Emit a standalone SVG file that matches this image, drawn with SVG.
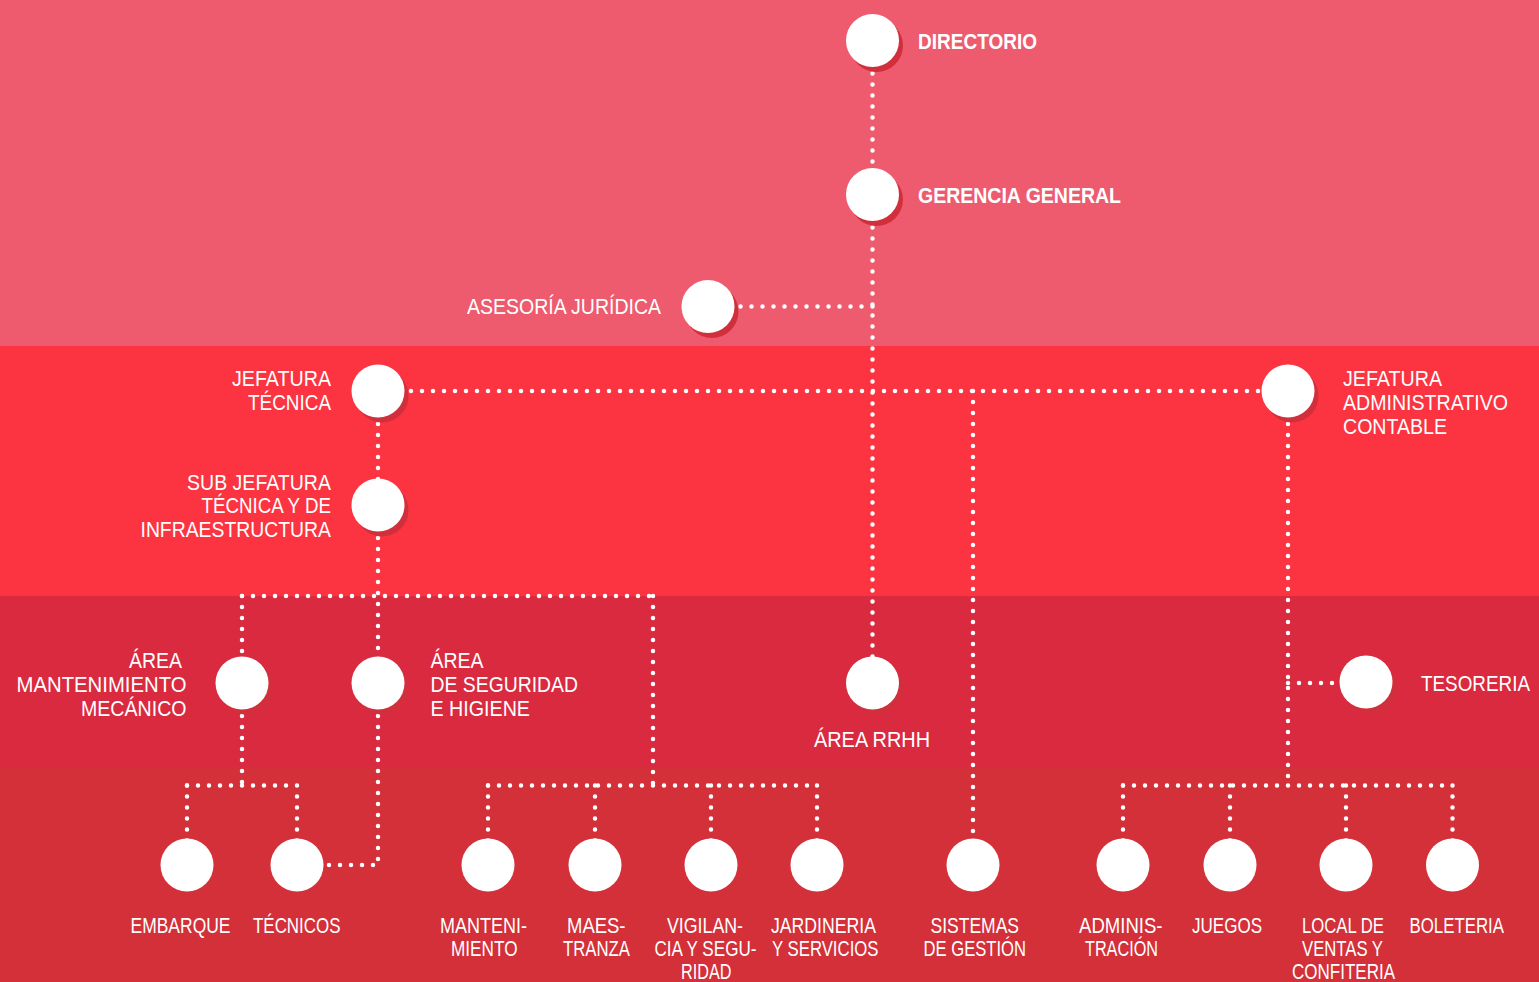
<svg xmlns="http://www.w3.org/2000/svg" width="1539" height="982" viewBox="0 0 1539 982">
<style>
.dot{fill:none;stroke:#fff;stroke-width:4.5;stroke-linecap:round;stroke-dasharray:0 11}
.sh{fill:#D22F3D}
.c{fill:#fff}
text{font-family:"Liberation Sans",Arial,sans-serif;font-size:21.5px;fill:#fff}
.b{font-weight:bold;font-size:22.5px}
</style>
<g id="bands">
<rect x="0" y="0" width="1539" height="346" fill="#EE5B6F"/>
<rect x="0" y="346" width="1539" height="250" fill="#FC3441"/>
<rect x="0" y="596" width="1539" height="171" fill="#DA2A40"/>
<rect x="0" y="767" width="1539" height="215" fill="#D33039"/>
</g>
<g id="connectors">
<path class="dot" d="M872.5 40.5V194.5"/>
<path class="dot" d="M872.5 194.5V683"/>
<path class="dot" d="M872.5 306.5H708"/>
<path class="dot" d="M378 391H1288"/>
<path class="dot" d="M973 391V865"/>
<path class="dot" d="M378 391V505"/>
<path class="dot" d="M378 505V683"/>
<path class="dot" d="M242 596H653"/>
<path class="dot" d="M242 596V683"/>
<path class="dot" d="M653 596V785.5"/>
<path class="dot" d="M242 683V785.5"/>
<path class="dot" d="M187 785.5H297"/>
<path class="dot" d="M187 785.5V865"/>
<path class="dot" d="M297 785.5V865"/>
<path class="dot" d="M378 683V865H297"/>
<path class="dot" d="M488 785.5H817"/>
<path class="dot" d="M488 785.5V865"/>
<path class="dot" d="M595 785.5V865"/>
<path class="dot" d="M711 785.5V865"/>
<path class="dot" d="M817 785.5V865"/>
<path class="dot" d="M1288 391V785.5"/>
<path class="dot" d="M1288 683H1366"/>
<path class="dot" d="M1123 785.5H1452.5"/>
<path class="dot" d="M1123 785.5V865"/>
<path class="dot" d="M1230 785.5V865"/>
<path class="dot" d="M1346 785.5V865"/>
<path class="dot" d="M1452.5 785.5V865"/>
</g>
<g id="directorio"><circle class="sh" cx="876.5" cy="45.5" r="26.5"/><circle class="c" cx="872.5" cy="40.5" r="26.5"/><text class="b" x="918" y="49" textLength="119" lengthAdjust="spacingAndGlyphs">DIRECTORIO</text></g>
<g id="gerencia"><circle class="sh" cx="876.5" cy="199.5" r="26.5"/><circle class="c" cx="872.5" cy="194.5" r="26.5"/><text class="b" x="918" y="203" textLength="203" lengthAdjust="spacingAndGlyphs">GERENCIA GENERAL</text></g>
<g id="asesoria"><circle class="sh" cx="712" cy="311.5" r="26.5"/><circle class="c" cx="708" cy="306.5" r="26.5"/><text x="467" y="313.5" textLength="194" lengthAdjust="spacingAndGlyphs">ASESORÍA JURÍDICA</text></g>
<g id="jefatura-tecnica"><circle class="sh" cx="382" cy="396" r="26.5"/><circle class="c" cx="378" cy="391" r="26.5"/><text x="232" y="386" textLength="99" lengthAdjust="spacingAndGlyphs">JEFATURA</text><text x="248" y="409.5" textLength="83" lengthAdjust="spacingAndGlyphs">TÉCNICA</text></g>
<g id="sub-jefatura"><circle class="sh" cx="382" cy="510" r="26.5"/><circle class="c" cx="378" cy="505" r="26.5"/><text x="187" y="489.5" textLength="144" lengthAdjust="spacingAndGlyphs">SUB JEFATURA</text><text x="201.5" y="513" textLength="129.5" lengthAdjust="spacingAndGlyphs">TÉCNICA Y DE</text><text x="140.5" y="537" textLength="190.5" lengthAdjust="spacingAndGlyphs">INFRAESTRUCTURA</text></g>
<g id="jefatura-adm"><circle class="sh" cx="1292" cy="396" r="26.5"/><circle class="c" cx="1288" cy="391" r="26.5"/><text x="1343" y="386" textLength="99" lengthAdjust="spacingAndGlyphs">JEFATURA</text><text x="1343" y="410" textLength="165" lengthAdjust="spacingAndGlyphs">ADMINISTRATIVO</text><text x="1343" y="433.5" textLength="104" lengthAdjust="spacingAndGlyphs">CONTABLE</text></g>
<g id="area-mant"><circle class="sh" cx="246" cy="688" r="26.5"/><circle class="c" cx="242" cy="683" r="26.5"/><text x="129" y="667.5" textLength="53" lengthAdjust="spacingAndGlyphs">ÁREA</text><text x="16.5" y="691.5" textLength="170" lengthAdjust="spacingAndGlyphs">MANTENIMIENTO</text><text x="81" y="716" textLength="105.5" lengthAdjust="spacingAndGlyphs">MECÁNICO</text></g>
<g id="area-seg"><circle class="sh" cx="382" cy="688" r="26.5"/><circle class="c" cx="378" cy="683" r="26.5"/><text x="430.5" y="667.5" textLength="53" lengthAdjust="spacingAndGlyphs">ÁREA</text><text x="430.5" y="691.5" textLength="147.5" lengthAdjust="spacingAndGlyphs">DE SEGURIDAD</text><text x="430.5" y="716" textLength="99.5" lengthAdjust="spacingAndGlyphs">E HIGIENE</text></g>
<g id="area-rrhh"><circle class="sh" cx="876.5" cy="688" r="26.5"/><circle class="c" cx="872.5" cy="683" r="26.5"/><text x="814" y="747" textLength="116" lengthAdjust="spacingAndGlyphs">ÁREA RRHH</text></g>
<g id="tesoreria"><circle class="sh" cx="1370" cy="687" r="26.5"/><circle class="c" cx="1366" cy="682" r="26.5"/><text x="1421" y="691" textLength="109" lengthAdjust="spacingAndGlyphs">TESORERIA</text></g>
<g id="embarque"><circle class="c" cx="187" cy="865" r="26.5"/><text x="130.5" y="933" textLength="100" lengthAdjust="spacingAndGlyphs">EMBARQUE</text></g>
<g id="tecnicos"><circle class="c" cx="297" cy="865" r="26.5"/><text x="253" y="933" textLength="87.5" lengthAdjust="spacingAndGlyphs">TÉCNICOS</text></g>
<g id="mantenimiento"><circle class="c" cx="488" cy="865" r="26.5"/><text x="440" y="933" textLength="87" lengthAdjust="spacingAndGlyphs">MANTENI-</text><text x="451" y="956" textLength="66.5" lengthAdjust="spacingAndGlyphs">MIENTO</text></g>
<g id="maestranza"><circle class="c" cx="595" cy="865" r="26.5"/><text x="567" y="933" textLength="58.5" lengthAdjust="spacingAndGlyphs">MAES-</text><text x="563" y="956" textLength="67" lengthAdjust="spacingAndGlyphs">TRANZA</text></g>
<g id="vigilancia"><circle class="c" cx="711" cy="865" r="26.5"/><text x="667" y="933" textLength="76" lengthAdjust="spacingAndGlyphs">VIGILAN-</text><text x="654.5" y="956" textLength="102" lengthAdjust="spacingAndGlyphs">CIA Y SEGU-</text><text x="681" y="979" textLength="50.5" lengthAdjust="spacingAndGlyphs">RIDAD</text></g>
<g id="jardineria"><circle class="c" cx="817" cy="865" r="26.5"/><text x="771" y="933" textLength="105" lengthAdjust="spacingAndGlyphs">JARDINERIA</text><text x="772" y="956" textLength="106.5" lengthAdjust="spacingAndGlyphs">Y SERVICIOS</text></g>
<g id="sistemas"><circle class="c" cx="973" cy="865" r="26.5"/><text x="930.5" y="933" textLength="88.5" lengthAdjust="spacingAndGlyphs">SISTEMAS</text><text x="923.5" y="956" textLength="102.5" lengthAdjust="spacingAndGlyphs">DE GESTIÓN</text></g>
<g id="administracion"><circle class="c" cx="1123" cy="865" r="26.5"/><text x="1079" y="933" textLength="83.5" lengthAdjust="spacingAndGlyphs">ADMINIS-</text><text x="1085" y="956" textLength="73" lengthAdjust="spacingAndGlyphs">TRACIÓN</text></g>
<g id="juegos"><circle class="c" cx="1230" cy="865" r="26.5"/><text x="1192" y="933" textLength="70" lengthAdjust="spacingAndGlyphs">JUEGOS</text></g>
<g id="local"><circle class="c" cx="1346" cy="865" r="26.5"/><text x="1302" y="933" textLength="82" lengthAdjust="spacingAndGlyphs">LOCAL DE</text><text x="1302" y="956" textLength="81" lengthAdjust="spacingAndGlyphs">VENTAS Y</text><text x="1292" y="979" textLength="103" lengthAdjust="spacingAndGlyphs">CONFITERIA</text></g>
<g id="boleteria"><circle class="c" cx="1452.5" cy="865" r="26.5"/><text x="1409.5" y="933" textLength="94.5" lengthAdjust="spacingAndGlyphs">BOLETERIA</text></g>
</svg>
